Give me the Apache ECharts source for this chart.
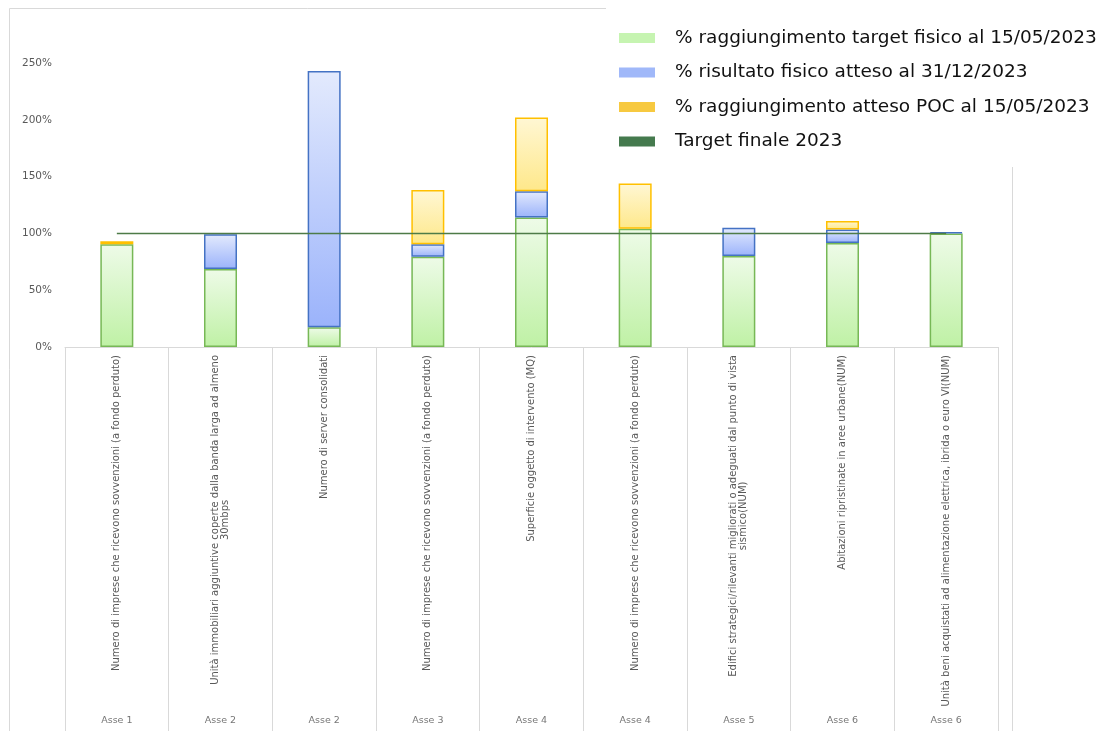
<!DOCTYPE html>
<html><head><meta charset="utf-8">
<script src="https://cdn.jsdelivr.net/npm/echarts@6/dist/echarts.min.js"></script>
<style>html,body{margin:0;padding:0;background:#fff}#c{width:1101px;height:731px}</style>
</head><body><div id="c"></div>
<script>
const categories = [
  "Numero di imprese che ricevono sovvenzioni (a fondo perduto)",
  "Unità immobiliari aggiuntive coperte dalla banda larga ad almeno\n30mbps",
  "Numero di server consolidati",
  "Numero di imprese che ricevono sovvenzioni (a fondo perduto)",
  "Superficie oggetto di intervento (MQ)",
  "Numero di imprese che ricevono sovvenzioni (a fondo perduto)",
  "Edifici strategici/rilevanti migliorati o adeguati dal punto di vista\nsismico(NUM)",
  "Abitazioni ripristinate in aree urbane(NUM)",
  "Unità beni acquistati ad alimentazione elettrica, ibrida o euro VI(NUM)"
];
const groups = ["Asse 1","Asse 2","Asse 2","Asse 3","Asse 4","Asse 4","Asse 5","Asse 6","Asse 6"];
const seriesNames = [
  "% raggiungimento target fisico al 15/05/2023",
  "% risultato fisico atteso al 31/12/2023",
  "% raggiungimento atteso POC al 15/05/2023",
  "Target finale 2023"
];
const greenVals = [90.5, 68.7, 17.3, 79.5, 114, 104, 80, 91.5, 100];
const blueVals = [null, 30.5, 225.7, 11, 23, null, 25, 12, 1];
const yellowVals = [2.5, null, null, 47.7, 65, 40, null, 7.5, null];
const targetVals = [100, 100, 100, 100, 100, 100, 100, 100, 100];
const yTicks = {min: 0, max: 250, interval: 50};

const WIDE = 'DejaVu Sans, Verdana, sans-serif';
function grad(top, bottom) {
  return new echarts.graphic.LinearGradient(0, 0, 0, 1, [{offset: 0, color: top}, {offset: 1, color: bottom}]);
}
function fmtCat(v) {
  const parts = v.split("\n");
  if (parts.length === 1) return v;
  return parts[0] + "\n{c|" + parts[1] + "}";
}
const chart = echarts.init(document.getElementById('c'), null, {renderer: 'canvas'});
const option = {
  animation: false,
  backgroundColor: '#fff',
  textStyle: {fontFamily: WIDE},
  grid: {left: 65, right: 103, top: 63, bottom: 384, containLabel: false},
  legend: {
    orient: 'vertical', left: 619, top: 28, padding: 0,
    itemWidth: 36, itemHeight: 10, itemGap: 14.5, icon: 'rect',
    textStyle: {fontFamily: WIDE, fontSize: 18.5, color: '#111', lineHeight: 20, padding: [0, 0, 0, 15]},
    data: [
      {name: seriesNames[0], itemStyle: {color: '#c6f4b1', borderWidth: 0}},
      {name: seriesNames[1], itemStyle: {color: '#a0b8f9', borderWidth: 0}},
      {name: seriesNames[2], itemStyle: {color: '#f7c940', borderWidth: 0}},
      {name: seriesNames[3], itemStyle: {color: '#457a4e', borderWidth: 0}}
    ]
  },
  graphic: [
    {type: 'line', shape: {x1: 9.5, y1: 8.5, x2: 606, y2: 8.5}, style: {stroke: '#d9d9d9', lineWidth: 1}},
    {type: 'line', shape: {x1: 9.5, y1: 8.5, x2: 9.5, y2: 731}, style: {stroke: '#d9d9d9', lineWidth: 1}},
    {type: 'line', shape: {x1: 1012.5, y1: 167, x2: 1012.5, y2: 731}, style: {stroke: '#d9d9d9', lineWidth: 1}}
  ],
  xAxis: [
    {
      type: 'category', data: categories, position: 'bottom',
      axisLine: {show: true, lineStyle: {color: '#d9d9d9', width: 1}},
      axisTick: {show: true, length: 384, interval: 0, lineStyle: {color: '#d9d9d9', width: 1}},
      axisLabel: {
        interval: 0, rotate: 90, margin: 8, fontSize: 10, color: '#595959', fontFamily: WIDE,
        formatter: fmtCat,
        rich: {c: {align: 'center', fontSize: 10, color: '#595959', fontFamily: WIDE}}
      }
    },
    {
      type: 'category', data: groups, position: 'bottom',
      axisLine: {show: false}, axisTick: {show: false},
      axisLabel: {interval: 0, margin: 369, fontSize: 9.5, color: '#767676', fontFamily: WIDE}
    }
  ],
  yAxis: {
    type: 'value', min: yTicks.min, max: yTicks.max, interval: yTicks.interval,
    axisLine: {show: false}, axisTick: {show: false}, splitLine: {show: false},
    axisLabel: {formatter: '{value}%', fontSize: 10.5, color: '#595959', margin: 13, fontFamily: WIDE}
  },
  series: [
    {
      name: seriesNames[0], type: 'bar', stack: 'a', barWidth: 33, data: greenVals,
      itemStyle: {color: grad('#eefbe8', '#bff1a5'), borderColor: '#77b856', borderWidth: 1.5}
    },
    {
      name: seriesNames[1], type: 'bar', stack: 'a', barWidth: 33, data: blueVals,
      itemStyle: {color: grad('#e3eafd', '#9bb3fb'), borderColor: '#4472c4', borderWidth: 1.5}
    },
    {
      name: seriesNames[2], type: 'bar', stack: 'a', barWidth: 33, data: yellowVals,
      itemStyle: {color: grad('#fff7d4', '#fee88a'), borderColor: '#ffc000', borderWidth: 1.5}
    },
    {
      name: seriesNames[3], type: 'line', data: targetVals, symbol: 'none', z: 5,
      lineStyle: {color: '#4e7b47', width: 1.5},
      itemStyle: {color: '#457a4e'}
    }
  ]
};
chart.setOption(option);
</script>
</body></html>
